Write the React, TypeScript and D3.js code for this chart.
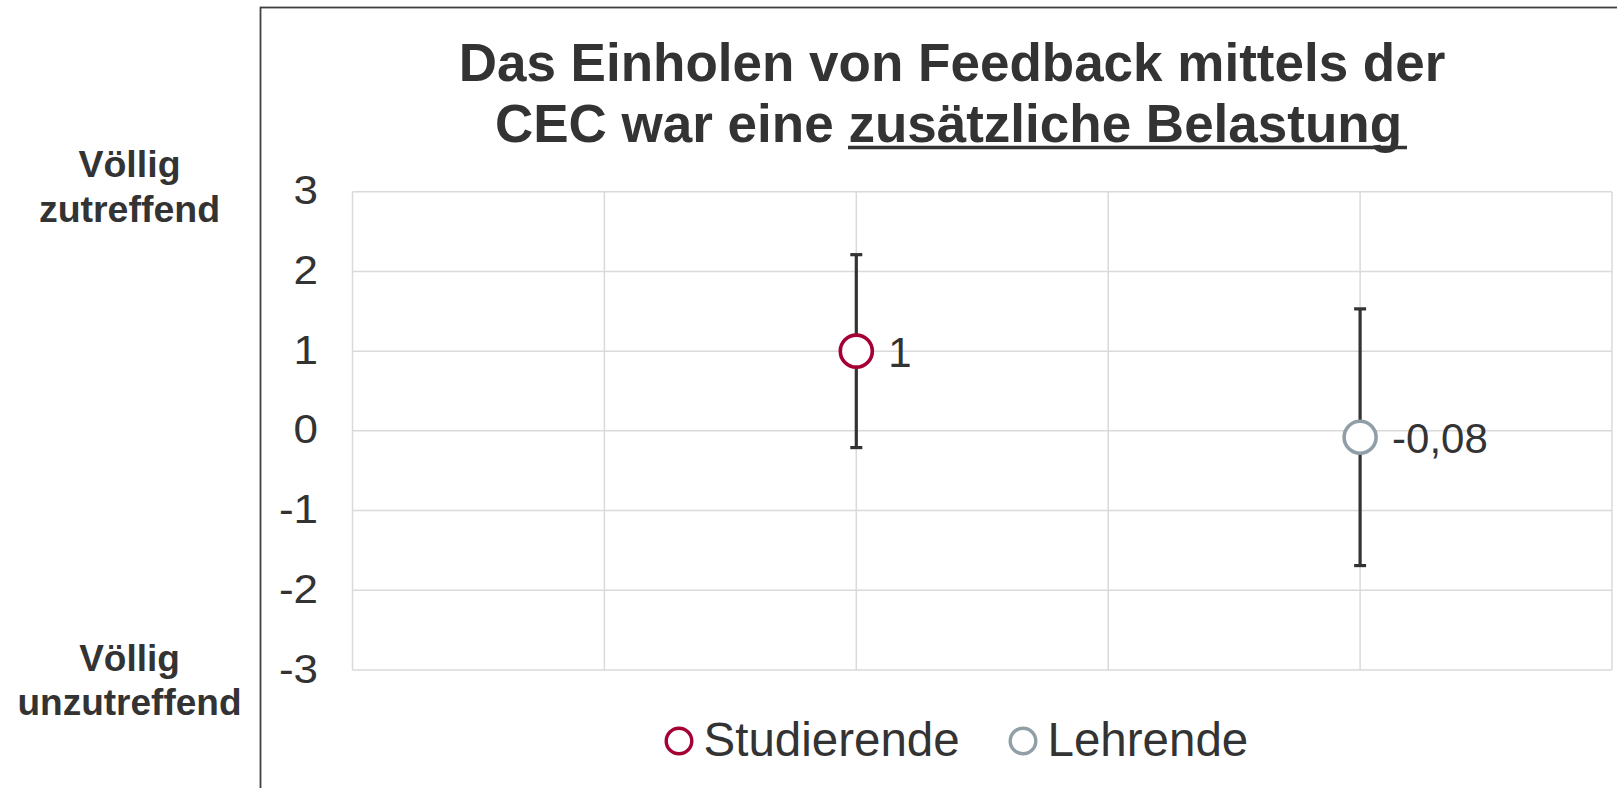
import React from "react";
import * as d3 from "d3";

const categories = ["Studierende", "Lehrende"];
const xPositions = [2, 4];
const means = [1, -0.08];
const errors = [1.21, 1.61];
const meanLabels = ["1", "-0,08"];
const colors = ["#A50034", "#909FA7"];
const yTicks = [3, 2, 1, 0, -1, -2, -3];
const xGrid = [0, 1, 2, 3, 4, 5];
const titleLine1 = "Das Einholen von Feedback mittels der";
const titleLine2a = "CEC war eine ";
const titleLine2b = "zusätzliche Belastung";
const topLabel = ["Völlig", "zutreffend"];
const bottomLabel = ["Völlig", "unzutreffend"];

const W = 1617;
const H = 788;
const FONT = "'Liberation Sans', Arial, Helvetica, sans-serif";
const TEXT = "#333333";

export default function App() {
  const plot = { left: 352.5, right: 1612, top: 191.7, bottom: 670 };
  const x = d3.scaleLinear().domain([0, 5]).range([plot.left, plot.right]);
  const y = d3.scaleLinear().domain([-3, 3]).range([plot.bottom, plot.top]);
  const legendX = [679, 1023];

  return (
    <svg
      width={W}
      height={H}
      style={{ position: "absolute", left: 0, top: 0, background: "#fff" }}
      fontFamily={FONT}
    >
      {/* chart area border */}
      <rect x={260.5} y={7.5} width={2000} height={2000} fill="#fff" stroke="#404040" strokeWidth={1.8} />

      {/* title */}
      <text x={952} y={80.5} fontSize={53} fontWeight="bold" fill={TEXT} textAnchor="middle">
        {titleLine1}
      </text>
      <text x={948.5} y={141.5} fontSize={53} fontWeight="bold" fill={TEXT} textAnchor="middle">
        <tspan>{titleLine2a}</tspan>
        <tspan>{titleLine2b}</tspan>
      </text>
      <line x1={848} x2={1407} y1={147.5} y2={147.5} stroke={TEXT} strokeWidth={3.5} />

      {/* left annotation labels */}
      {topLabel.map((t, i) => (
        <text key={"tl" + i} x={129.5} y={177 + i * 45} textAnchor="middle" fontSize={37.5} fontWeight="bold" fill={TEXT}>
          {t}
        </text>
      ))}
      {bottomLabel.map((t, i) => (
        <text key={"bl" + i} x={129.5} y={670.7 + i * 44.3} textAnchor="middle" fontSize={37} fontWeight="bold" fill={TEXT}>
          {t}
        </text>
      ))}

      {/* gridlines */}
      {yTicks.map((v) => (
        <line key={"hy" + v} x1={plot.left} x2={plot.right} y1={y(v)} y2={y(v)} stroke="#DADADA" strokeWidth={1.5} />
      ))}
      {xGrid.map((v) => (
        <line key={"vx" + v} x1={x(v)} x2={x(v)} y1={plot.top} y2={plot.bottom} stroke="#DADADA" strokeWidth={1.5} />
      ))}

      {/* y tick labels */}
      {yTicks.map((v) => (
        <text
          key={"yt" + v}
          transform={`translate(318,${y(v) + 12.5}) scale(1.1,1)`}
          textAnchor="end"
          fontSize={40}
          fill={TEXT}
        >
          {String(v)}
        </text>
      ))}

      {/* error bars and markers */}
      {categories.map((c, i) => {
        const cx = x(xPositions[i]);
        const yTop = y(means[i] + errors[i]);
        const yBot = y(means[i] - errors[i]);
        return (
          <g key={"s" + c}>
            <line x1={cx} x2={cx} y1={yTop} y2={yBot} stroke="#333" strokeWidth={3.2} />
            <line x1={cx - 6} x2={cx + 6} y1={yTop} y2={yTop} stroke="#333" strokeWidth={3.2} />
            <line x1={cx - 6} x2={cx + 6} y1={yBot} y2={yBot} stroke="#333" strokeWidth={3.2} />
            <circle cx={cx} cy={y(means[i])} r={16} fill="#fff" stroke={colors[i]} strokeWidth={3.6} />
            <text x={cx + 32} y={y(means[i]) + 15.5} fontSize={42} fill={TEXT}>
              {meanLabels[i]}
            </text>
          </g>
        );
      })}

      {/* legend */}
      {categories.map((c, i) => (
        <g key={"lg" + c}>
          <circle cx={legendX[i]} cy={741} r={12.8} fill="#fff" stroke={colors[i]} strokeWidth={3.4} />
          <text x={legendX[i] + 24.5} y={755.7} fontSize={47.5} fill={TEXT}>
            {c}
          </text>
        </g>
      ))}
    </svg>
  );
}
